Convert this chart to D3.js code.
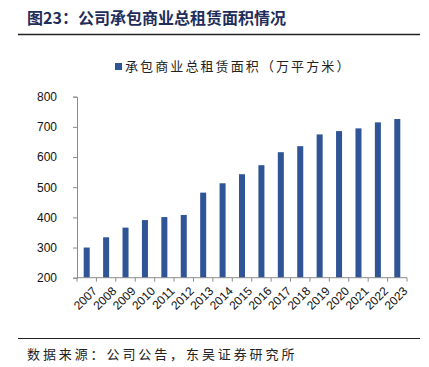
<!DOCTYPE html>
<html>
<head>
<meta charset="utf-8">
<script src="https://cdn.jsdelivr.net/npm/d3@7"></script>
<style>
  body { margin: 0; background: #fff; }
  svg { display: block; }
</style>
</head>
<body>
<svg id="chart" width="429" height="367"></svg>
<script>
const years = ['2007', '2008', '2009', '2010', '2011', '2012', '2013', '2014', '2015',
    '2016', '2017', '2018', '2019', '2020', '2021', '2022', '2023']
const areas = [300, 334, 366, 391, 401, 408, 482, 513, 543, 573, 616, 636, 675, 686, 695, 715, 726]
const yTicks = [200, 300, 400, 500, 600, 700, 800]

const seriesName = '承包商业总租赁面积（万平方米）'
const title = '图23：公司承包商业总租赁面积情况'
const source = '数据来源：公司公告，东吴证券研究所'

const cjk = '"Noto Sans CJK SC", "Noto Sans", sans-serif'
const svg = d3.select('#chart')

// title + rule
svg.append('text')
    .attr('x', 27).attr('y', 24)
    .style('font-family', cjk)
    .style('font-size', '16px')
    .style('font-weight', 'bold')
    .style('fill', '#1f2d5a')
    .text(title)
svg.append('line')
    .attr('x1', 18).attr('x2', 420).attr('y1', 34.5).attr('y2', 34.5)
    .attr('stroke', '#222').attr('stroke-width', 1.5)

const x = d3.scaleBand().domain(years).range([77, 407]).paddingInner(0.69).paddingOuter(0.345)
const y = d3.scaleLinear().domain([200, 800]).range([277.7, 96.7])

// legend
svg.append('rect')
    .attr('x', 115).attr('y', 63).attr('width', 7).attr('height', 7)
    .attr('fill', '#2f5597')
svg.append('text')
    .attr('x', 125).attr('y', 71)
    .style('font-family', cjk)
    .style('font-size', '13px')
    .style('letter-spacing', '2.1px')
    .style('fill', '#222')
    .text(seriesName)

// bars
svg.append('g')
    .selectAll('rect')
    .data(years)
    .enter()
    .append('rect')
    .attr('x', d => x(d))
    .attr('width', x.bandwidth())
    .attr('y', (d, i) => y(areas[i]))
    .attr('height', (d, i) => y(200) - y(areas[i]))
    .attr('fill', '#2f5597')

// y axis
const yAxis = svg.append('g')
    .attr('transform', 'translate(77,0)')
    .call(d3.axisLeft(y).tickValues(yTicks).tickSize(4).tickPadding(16))
yAxis.select('.domain').attr('stroke', '#8c8c8c')
yAxis.selectAll('.tick line').attr('stroke', '#8c8c8c')
yAxis.selectAll('text')
    .style('font-family', '"Liberation Sans", Arial, sans-serif')
    .style('font-size', '12px')
    .style('fill', '#111')

// x axis, ticks sit on the category boundaries
const xg = svg.append('g').attr('transform', `translate(0,${y(200)})`)
xg.append('line')
    .attr('x1', 77).attr('x2', 407).attr('stroke', '#8c8c8c')
const step = x.step()
xg.selectAll('line.tk')
    .data(d3.range(years.length + 1))
    .enter()
    .append('line')
    .attr('class', 'tk')
    .attr('x1', i => 77 + i * step).attr('x2', i => 77 + i * step)
    .attr('y1', 0).attr('y2', 4)
    .attr('stroke', '#8c8c8c')
xg.selectAll('text')
    .data(years)
    .enter()
    .append('text')
    .attr('text-anchor', 'end')
    .attr('transform', d => `translate(${x(d) + x.bandwidth() / 2 + 5},${8}) rotate(-45)`)
    .attr('dy', '0.71em')
    .style('font-family', '"Liberation Sans", Arial, sans-serif')
    .style('font-size', '12px')
    .style('fill', '#111')
    .text(d => d)

// source rule + text
svg.append('line')
    .attr('x1', 18).attr('x2', 420).attr('y1', 338.5).attr('y2', 338.5)
    .attr('stroke', '#222').attr('stroke-width', 1.2)
svg.append('text')
    .attr('x', 27).attr('y', 359)
    .style('font-family', cjk)
    .style('font-size', '13px')
    .style('letter-spacing', '2.9px')
    .style('fill', '#222')
    .text(source)
</script>
</body>
</html>
